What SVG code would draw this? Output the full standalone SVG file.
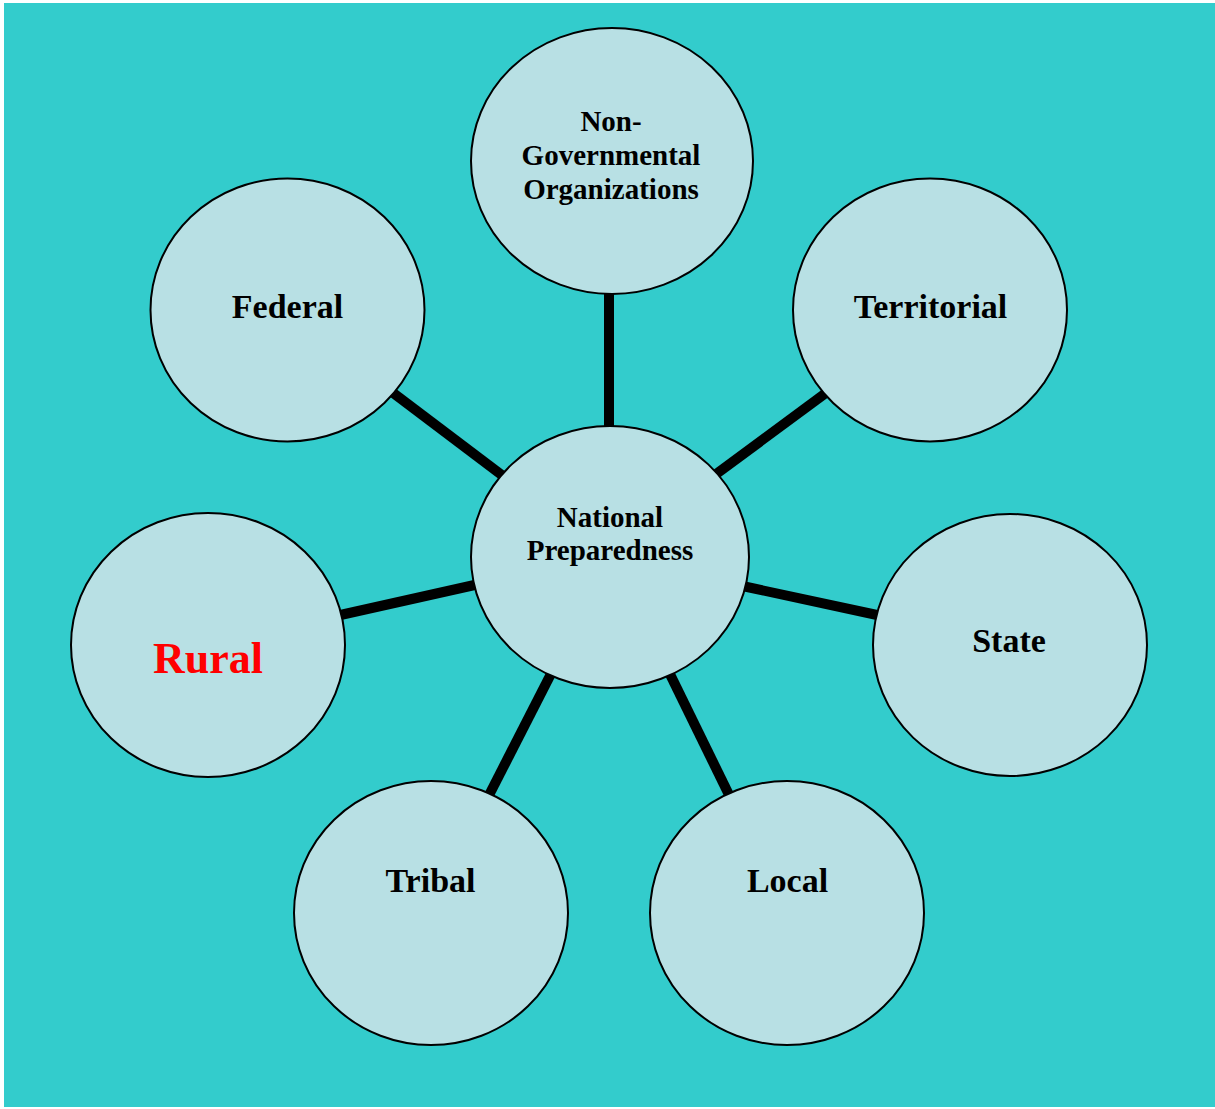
<svg xmlns="http://www.w3.org/2000/svg" width="1215" height="1109" viewBox="0 0 1215 1109">
<style>
.node ellipse{fill:#B8E0E4;stroke:#000;stroke-width:2}
.lbl{font-family:"Liberation Serif","Times New Roman",serif;font-weight:bold;text-anchor:middle;fill:#000}
.big{font-size:34px}
.small{font-size:29px}
.conn line{stroke:#000;stroke-width:10}
</style>
<rect x="0" y="0" width="1215" height="1109" fill="#ffffff"/>
<rect x="4" y="3" width="1211" height="1104" fill="#33CCCC"/>
<g id="connectors" class="conn">
<line x1="609" y1="280" x2="609" y2="440"/>
<line x1="380" y1="383" x2="515" y2="485"/>
<line x1="838" y1="384" x2="704" y2="483"/>
<line x1="327" y1="618" x2="488" y2="582"/>
<line x1="733" y1="584" x2="891" y2="618"/>
<line x1="484" y1="805" x2="555" y2="666"/>
<line x1="666" y1="666" x2="734" y2="805"/>
</g>
<g id="node-ngo" class="node">
<ellipse cx="612" cy="161" rx="141" ry="133"/>
<text class="lbl small" x="611" y="131">Non-</text>
<text class="lbl small" x="611" y="165">Governmental</text>
<text class="lbl small" x="611" y="199">Organizations</text>
</g>
<g id="node-federal" class="node">
<ellipse cx="287.5" cy="310" rx="137" ry="131.5"/>
<text class="lbl big" x="287.5" y="318">Federal</text>
</g>
<g id="node-territorial" class="node">
<ellipse cx="930" cy="310" rx="137" ry="131.5"/>
<text class="lbl big" x="930.5" y="318">Territorial</text>
</g>
<g id="node-center" class="node">
<ellipse cx="610" cy="557" rx="139" ry="131"/>
<text class="lbl small" x="610" y="527">National</text>
<text class="lbl small" x="610" y="560">Preparedness</text>
</g>
<g id="node-rural" class="node">
<ellipse cx="208" cy="645" rx="137" ry="132"/>
<text class="lbl" x="208" y="673" style="font-size:44px;fill:#FF0000">Rural</text>
</g>
<g id="node-state" class="node">
<ellipse cx="1010" cy="645" rx="137" ry="131"/>
<text class="lbl big" x="1009" y="652">State</text>
</g>
<g id="node-tribal" class="node">
<ellipse cx="431" cy="913" rx="137" ry="132"/>
<text class="lbl big" x="430.5" y="892">Tribal</text>
</g>
<g id="node-local" class="node">
<ellipse cx="787" cy="913" rx="137" ry="132"/>
<text class="lbl big" x="787.5" y="892">Local</text>
</g>
</svg>
